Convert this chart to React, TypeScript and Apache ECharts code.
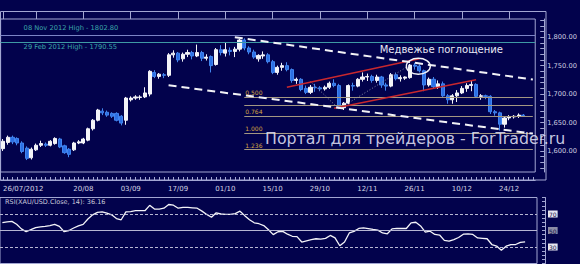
import React, { useEffect, useRef } from 'react';
import * as echarts from 'echarts';

// ---- categories (trading days) ----
const YEAR = 2012;
const DATES = [
  '26/07', '27/07', '30/07', '31/07',
  '01/08', '02/08', '03/08', '06/08', '07/08', '08/08', '09/08', '10/08', '13/08', '14/08', '15/08', '16/08', '17/08',
  '20/08', '21/08', '22/08', '23/08', '24/08', '27/08', '28/08', '29/08', '30/08', '31/08',
  '03/09', '04/09', '05/09', '06/09', '07/09', '10/09', '11/09', '12/09', '13/09', '14/09',
  '17/09', '18/09', '19/09', '20/09', '21/09', '24/09', '25/09', '26/09', '27/09', '28/09',
  '01/10', '02/10', '03/10', '04/10', '05/10', '08/10', '09/10', '10/10', '11/10', '12/10',
  '15/10', '16/10', '17/10', '18/10', '19/10', '22/10', '23/10', '24/10', '25/10', '26/10',
  '29/10', '30/10', '31/10', '01/11', '02/11', '05/11', '06/11', '07/11', '08/11', '09/11',
  '12/11', '13/11', '14/11', '15/11', '16/11', '19/11', '20/11', '21/11', '22/11', '23/11',
  '26/11', '27/11', '28/11', '29/11', '30/11', '03/12', '04/12', '05/12', '06/12', '07/12',
  '10/12', '11/12', '12/12', '13/12', '14/12', '17/12', '18/12', '19/12', '20/12', '21/12',
  '24/12', '25/12', '26/12', '27/12', '28/12', '31/12',
];
const LABEL_DATES = ['26/07', '20/08', '03/09', '17/09', '01/10', '15/10', '29/10', '12/11', '26/11', '10/12', '24/12'];
const MAJOR_TICK_DATES = ['06/08', ...LABEL_DATES];

// ---- XAU/USD daily prices ----
const OPEN = [
  1604, 1615, 1624, 1622, 1614, 1605, 1588, 1602, 1610, 1612,
  1610, 1613, 1621, 1609, 1603, 1602, 1614, 1614, 1619, 1639,
  1654, 1670, 1668, 1666, 1666, 1661, 1654, 1690, 1693, 1694,
  1695, 1700, 1738, 1731, 1734, 1733, 1769, 1772, 1762, 1770,
  1773, 1767, 1773, 1763, 1766, 1752, 1778, 1772, 1777, 1775,
  1779, 1795, 1781, 1774, 1762, 1767, 1769, 1757, 1738, 1747,
  1750, 1743, 1724, 1726, 1710, 1703, 1712, 1711, 1709, 1712,
  1719, 1715, 1676, 1684, 1715, 1714, 1726, 1730, 1731, 1724,
  1730, 1716, 1714, 1734, 1727, 1728, 1729, 1751, 1749, 1741,
  1716, 1726, 1713, 1718, 1697, 1690, 1697, 1702, 1710, 1715,
  1717, 1696, 1697, 1696, 1669, 1667, 1647, 1658, 1660, 1661, 1663,
];
const CLOSE = [
  1617, 1624, 1616, 1614, 1599, 1587, 1603, 1610, 1613, 1610,
  1617, 1622, 1607, 1597, 1594, 1614, 1616, 1621, 1639, 1654,
  1672, 1667, 1663, 1661, 1654, 1649, 1693, 1693, 1695, 1695,
  1702, 1740, 1731, 1735, 1733, 1769, 1772, 1760, 1770, 1773,
  1767, 1773, 1763, 1765, 1750, 1778, 1773, 1778, 1775, 1779,
  1795, 1781, 1774, 1765, 1768, 1769, 1757, 1738, 1747, 1750,
  1743, 1724, 1726, 1708, 1703, 1712, 1711, 1709, 1712, 1719,
  1715, 1676, 1684, 1715, 1714, 1726, 1730, 1731, 1724, 1730,
  1716, 1714, 1734, 1727, 1729, 1730, 1751, 1749, 1741, 1716,
  1726, 1713, 1718, 1697, 1690, 1697, 1702, 1710, 1715, 1717,
  1696, 1697, 1696, 1669, 1667, 1647, 1658, 1660, 1661, 1663, 1662,
];
const LOW = [
  1600, 1611, 1612, 1610, 1596, 1584, 1585, 1600, 1607, 1607,
  1608, 1611, 1605, 1595, 1589, 1600, 1612, 1612, 1617, 1636,
  1652, 1663, 1660, 1658, 1652, 1645, 1646, 1687, 1690, 1690,
  1693, 1696, 1728, 1727, 1728, 1730, 1764, 1756, 1757, 1765,
  1761, 1765, 1758, 1759, 1738, 1750, 1768, 1766, 1768, 1765,
  1775, 1777, 1770, 1762, 1757, 1762, 1754, 1735, 1734, 1741,
  1740, 1720, 1718, 1705, 1700, 1700, 1704, 1705, 1706, 1709,
  1712, 1674, 1672, 1682, 1706, 1712, 1722, 1723, 1720, 1720,
  1711, 1706, 1712, 1724, 1722, 1725, 1727, 1743, 1738, 1705,
  1713, 1709, 1709, 1695, 1683, 1683, 1686, 1700, 1704, 1705,
  1693, 1690, 1691, 1665, 1662, 1636, 1641, 1654, 1657, 1658, 1660,
];
const HIGH = [
  1621, 1627, 1627, 1624, 1617, 1608, 1606, 1613, 1618, 1615,
  1619, 1624, 1623, 1611, 1605, 1616, 1619, 1623, 1641, 1656,
  1674, 1675, 1671, 1668, 1668, 1663, 1695, 1696, 1698, 1698,
  1712, 1742, 1742, 1737, 1737, 1772, 1777, 1774, 1773, 1778,
  1776, 1787, 1776, 1770, 1768, 1781, 1786, 1791, 1782, 1783,
  1797, 1798, 1784, 1778, 1770, 1775, 1772, 1760, 1750, 1755,
  1756, 1745, 1729, 1728, 1715, 1716, 1718, 1714, 1715, 1722,
  1726, 1718, 1686, 1717, 1720, 1728, 1738, 1736, 1734, 1734,
  1732, 1720, 1737, 1738, 1733, 1731, 1753, 1755, 1752, 1743,
  1729, 1730, 1724, 1722, 1700, 1700, 1707, 1714, 1719, 1724,
  1719, 1700, 1699, 1698, 1672, 1669, 1661, 1663, 1663, 1666, 1665,
];

// ---- RSI(14) of the close ----
const RSI = [
  59.5, 60.5, 61, 57.5, 52, 48.5, 51, 53.5, 54.5, 55,
  56, 57.5, 55, 48.5, 50, 53, 55.5, 57.5, 64, 69,
  72, 72.5, 71, 69, 64.5, 63, 72.5, 73, 74, 74,
  74, 80.5, 76, 76, 77, 81.5, 80.7, 77, 78, 78,
  77.5, 77, 73.5, 69.5, 66, 71.5, 70, 69.5, 69.5, 70.5,
  73.4, 68, 63, 59.3, 58.2, 56, 51, 45, 48.5, 49,
  45.5, 43, 42.5, 36, 37.5, 39, 40, 39.5, 40.5, 44,
  41, 31.5, 36, 47, 49, 52.5, 53.3, 52.4, 51.3, 50.5,
  47, 46, 52, 52.5, 52.4, 52.4, 59.3, 60, 55.5, 48,
  49.2, 45.2, 44.5, 38, 37, 39, 41.5, 45.5, 45.8, 45.2,
  41, 40.5, 40, 33, 31.2, 26, 31, 33, 33, 35.5, 36.16,
];
const RSI_LEVELS = [30, 50, 70];

// ---- reference levels and drawn studies ----
const HIGH_NAMES = ['08 Nov 2012 High', '29 Feb 2012 High'];
const HIGH_VALUES = [1802.8, 1790.55];
const PRICE_LABELS = [1600, 1650, 1700, 1750, 1800];

const FIB_RATIOS = [0.5, 0.618, 0.764, 1.0, 1.236];
const FIB_LABELED = [true, false, true, true, true];
const FIB_ZERO = 1758;
const FIB_ONE = 1632;
const FIB_FROM = '05/10';
const FIB_TO = '31/12';

// [fromDate, fromPrice, toDate, toPrice]
const CHANNEL_DASHED: [string, number, string, number][] = [
  ['03/10', 1800, '31/12', 1725.5],
  ['13/09', 1715.5, '31/12', 1630.5],
];
const CHANNEL_RED: [string, number, string, number][] = [
  ['18/10', 1712, '27/11', 1762],
  ['01/11', 1675, '13/12', 1725],
];
const FIB_GUIDES: [string, number, string, number][] = [
  ['25/10', 1722, '02/11', 1674],
  ['02/11', 1674, '23/11', 1751],
];

const PATTERN_DATE = '27/11';
const PATTERN_PRICE = 1749;
const PATTERN_NAME = 'Медвежье поглощение';
const WATERMARK = 'Портал для трейдеров - ForTrader.ru';

// ---- styling ----
const BG = '#02024c';
const FRAME = '#a2a6d2';
const AXIS_TEXT = '#d2d2e2';
const BULL = '#f4f4f8';
const BEAR = '#2c6fe4';
const BEAR_EDGE = '#4285f0';
const FONT = 'DejaVu Sans';

const PRICE_MIN = 1563;
const PRICE_MAX = 1832;
const PRICE_TICK_MARKS = Array.from({ length: 27 }, (_, i) => 1570 + i * 10);
const RSI_TICK_MARKS = Array.from({ length: 17 }, (_, i) => 10 + i * 5);

const segment = (s: [string, number, string, number], lineStyle: any) => [
  { coord: [s[0], s[1]], lineStyle },
  { coord: [s[2], s[3]] },
];

function buildOption() {
  const candles = OPEN.map((o, i) => [o, CLOSE[i], LOW[i], HIGH[i]]);

  const highLines = HIGH_VALUES.map((v, i) => ({
    yAxis: v,
    lineStyle: { color: i === 0 ? '#7c84c6' : '#3e9aa4', width: 1, type: 'solid' },
    label: {
      show: true,
      position: i === 0 ? 'insideStartTop' : 'insideStartBottom',
      distance: [23, i === 0 ? 4 : 1],
      formatter: `${HIGH_NAMES[i]} - ${v.toFixed(2)}`,
      color: '#3ca8aa',
      fontSize: 6.7,
      fontFamily: FONT,
    },
  }));

  const fibLines = FIB_RATIOS.map((r, i) => {
    const price = FIB_ZERO - r * (FIB_ZERO - FIB_ONE);
    return [
      {
        coord: [FIB_FROM, price],
        lineStyle: { color: '#a39782', width: 1, type: 'solid' },
        label: {
          show: FIB_LABELED[i],
          position: 'insideStartTop',
          distance: [1, 1],
          formatter: r.toFixed(3),
          color: '#d9a640',
          fontSize: 6,
          fontFamily: FONT,
        },
      },
      { coord: [FIB_TO, price] },
    ];
  });

  const dashed = CHANNEL_DASHED.map((s) =>
    segment(s, { color: '#f2f2f6', width: 2, type: [8, 5] })
  );
  const red = CHANNEL_RED.map((s) => segment(s, { color: '#c8282e', width: 1.5, type: 'solid' }));
  const guides = FIB_GUIDES.map((s) => segment(s, { color: '#8c8ca4', width: 1, type: [1, 2] }));

  const tickLine = { color: FRAME, width: 1 };

  return {
    animation: false,
    backgroundColor: BG,
    textStyle: { fontFamily: FONT },
    grid: [
      { left: 0, top: 19, width: 537, height: 153, show: true, borderColor: FRAME, borderWidth: 1 },
      { left: 0, top: 197.5, width: 537, height: 66, show: true, borderColor: FRAME, borderWidth: 1 },
    ],
    xAxis: [
      {
        gridIndex: 0,
        type: 'category',
        data: DATES,
        boundaryGap: true,
        offset: 8,
        axisLine: { show: true, lineStyle: tickLine },
        axisTick: { show: true, inside: true, length: 3, interval: 0, alignWithLabel: true, lineStyle: tickLine },
        axisLabel: {
          show: true,
          interval: (i: number) => LABEL_DATES.includes(DATES[i]),
          formatter: (v: string, i: number) => (i === 0 ? `${v}/${YEAR}` : v),
          color: AXIS_TEXT,
          fontSize: 7,
          margin: 5,
          alignMinLabel: 'left',
        },
        splitLine: { show: false },
      },
      {
        gridIndex: 0,
        type: 'category',
        data: DATES,
        boundaryGap: true,
        offset: 8,
        axisLine: { show: false },
        axisTick: {
          show: true,
          inside: true,
          length: 8,
          interval: (i: number) => MAJOR_TICK_DATES.includes(DATES[i]),
          alignWithLabel: true,
          lineStyle: tickLine,
        },
        axisLabel: { show: false },
        splitLine: { show: false },
      },
      {
        gridIndex: 1,
        type: 'category',
        data: DATES,
        boundaryGap: true,
        show: false,
      },
    ],
    yAxis: [
      {
        gridIndex: 0,
        type: 'value',
        position: 'right',
        offset: 9,
        min: PRICE_MIN,
        max: PRICE_MAX,
        axisLine: { show: true, lineStyle: tickLine },
        axisTick: { show: true, inside: true, length: 4, customValues: PRICE_TICK_MARKS, lineStyle: tickLine },
        axisLabel: {
          customValues: PRICE_LABELS,
          formatter: (v: number) => v.toLocaleString('en-US', { minimumFractionDigits: 2, maximumFractionDigits: 2 }),
          color: AXIS_TEXT,
          fontSize: 6.7,
          margin: 3,
        },
        splitLine: { show: false },
      },
      {
        gridIndex: 1,
        type: 'value',
        position: 'right',
        offset: 8,
        min: 10,
        max: 90,
        axisLine: { show: true, lineStyle: tickLine },
        axisTick: { show: true, inside: true, length: 3, customValues: RSI_TICK_MARKS, lineStyle: tickLine },
        axisLabel: {
          customValues: RSI_LEVELS,
          formatter: (v: number) => (v === 50 ? `{g|${v}}` : `{w|${v}}`),
          margin: 3,
          rich: {
            w: { backgroundColor: '#e6e6f0', color: '#101048', fontSize: 6, padding: [1, 1, 0, 1] },
            g: { backgroundColor: '#8c8ca6', color: '#101048', fontSize: 6, padding: [1, 1, 0, 1] },
          },
        },
        splitLine: { show: false },
      },
    ],
    series: [
      {
        type: 'candlestick',
        xAxisIndex: 0,
        yAxisIndex: 0,
        data: candles,
        barWidth: 3.6,
        itemStyle: {
          color: BULL,
          color0: BEAR,
          borderColor: BULL,
          borderColor0: BEAR_EDGE,
          borderWidth: 1,
        },
        markLine: {
          silent: true,
          symbol: ['none', 'none'],
          animation: false,
          label: { show: false },
          data: [...highLines, ...fibLines, ...guides, ...red, ...dashed],
        },
      },
      {
        type: 'line',
        xAxisIndex: 2,
        yAxisIndex: 1,
        data: RSI,
        showSymbol: false,
        lineStyle: { color: '#f4f4f8', width: 1.3 },
        markLine: {
          silent: true,
          symbol: ['none', 'none'],
          animation: false,
          label: { show: false },
          data: RSI_LEVELS.map((v) => ({
            yAxis: v,
            lineStyle: { color: '#b6b6d2', width: 1, type: v === 50 ? 'solid' : [3, 2] },
          })),
        },
      },
    ],
  };
}

export default function App() {
  const ref = useRef<HTMLDivElement>(null);

  useEffect(() => {
    if (!ref.current) return;
    const chart = echarts.init(ref.current, undefined, { renderer: 'svg' });
    chart.setOption(buildOption() as any);

    const [cx, cy] = chart.convertToPixel({ seriesIndex: 0 }, [
      DATES.indexOf(PATTERN_DATE),
      PATTERN_PRICE,
    ]) as number[];

    chart.setOption({
      graphic: [
        {
          type: 'rect',
          silent: true,
          shape: { x: 0.5, y: 11.5, width: 545.5, height: 168.5 },
          style: { fill: 'none', stroke: FRAME, lineWidth: 1 },
        },
        {
          type: 'ellipse',
          silent: true,
          shape: { cx: cx - 1, cy, rx: 12, ry: 8 },
          style: { fill: 'none', stroke: '#f4f4f8', lineWidth: 1.4 },
          z: 50,
        },
        {
          type: 'text',
          silent: true,
          x: cx + 22,
          y: cy - 17,
          style: {
            text: PATTERN_NAME,
            fill: '#e8e8f4',
            fontSize: 10,
            fontFamily: FONT,
            align: 'center',
            verticalAlign: 'middle',
          },
          z: 50,
        },
        {
          type: 'text',
          silent: true,
          x: 5,
          y: 202,
          style: {
            text: `RSI(XAU/USD.Close, 14): ${RSI[RSI.length - 1]}`,
            fill: '#c8c8da',
            fontSize: 6.5,
            fontFamily: FONT,
            verticalAlign: 'middle',
          },
          z: 50,
        },
        {
          type: 'text',
          silent: true,
          x: 265,
          y: 138.5,
          style: {
            text: WATERMARK,
            fill: 'rgba(222,222,242,0.9)',
            fontSize: 15.8,
            fontFamily: FONT,
            verticalAlign: 'middle',
          },
          z: 100,
        },
      ],
    });

    return () => chart.dispose();
  }, []);

  return (
    <div
      ref={ref}
      style={{ position: 'fixed', left: 0, top: 0, width: 580, height: 264 }}
    />
  );
}
